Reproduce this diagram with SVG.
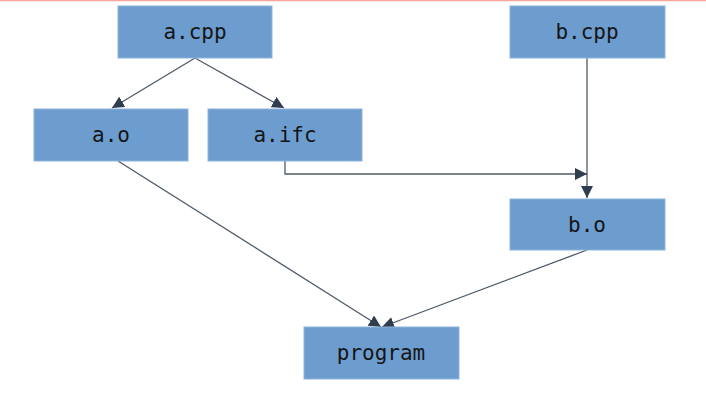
<svg xmlns="http://www.w3.org/2000/svg" width="706" height="420" viewBox="0 0 706 420">
<style>
.n{fill:#6d9dcf;stroke:#8db3dc;stroke-width:1}
.t{font-family:"DejaVu Sans Mono","Liberation Mono",monospace;font-size:21px;fill:#151515;text-anchor:middle;dominant-baseline:central}
.e{fill:none;stroke:#4d5968;stroke-width:1.3}
</style>
<defs>
<marker id="ah" viewBox="0 0 10 10" refX="10" refY="5" markerWidth="12" markerHeight="12" markerUnits="userSpaceOnUse" orient="auto">
<path d="M0,0 L10,5 L0,10 z" fill="#2f3d4e"/>
</marker>
</defs>
<rect x="0" y="0" width="706" height="420" fill="#ffffff"/>
<line x1="0" y1="0.5" x2="706" y2="0.5" stroke="#f4a89c" stroke-width="1.5"/>
<g id="edges">
<line class="e" x1="195" y1="58" x2="112" y2="108" marker-end="url(#ah)"/>
<line class="e" x1="195" y1="58" x2="284" y2="108" marker-end="url(#ah)"/>
<line class="e" x1="587" y1="58" x2="587" y2="198" marker-end="url(#ah)"/>
<polyline class="e" points="285,161 285,174 587,174" marker-end="url(#ah)"/>
<line class="e" x1="118" y1="161" x2="381" y2="327" marker-end="url(#ah)"/>
<line class="e" x1="587" y1="250" x2="382" y2="327" marker-end="url(#ah)"/>
</g>
<g id="a_cpp"><rect class="n" x="118" y="6" width="154" height="52"/><text class="t" x="195" y="32">a.cpp</text></g>
<g id="b_cpp"><rect class="n" x="510" y="6" width="155" height="52"/><text class="t" x="587" y="32">b.cpp</text></g>
<g id="a_o"><rect class="n" x="34" y="109" width="154" height="52"/><text class="t" x="111" y="135">a.o</text></g>
<g id="a_ifc"><rect class="n" x="208" y="109" width="154" height="52"/><text class="t" x="285" y="135">a.ifc</text></g>
<g id="b_o"><rect class="n" x="510" y="199" width="155" height="51"/><text class="t" x="587" y="225">b.o</text></g>
<g id="program"><rect class="n" x="304" y="327" width="155" height="52"/><text class="t" x="381" y="353">program</text></g>
</svg>
